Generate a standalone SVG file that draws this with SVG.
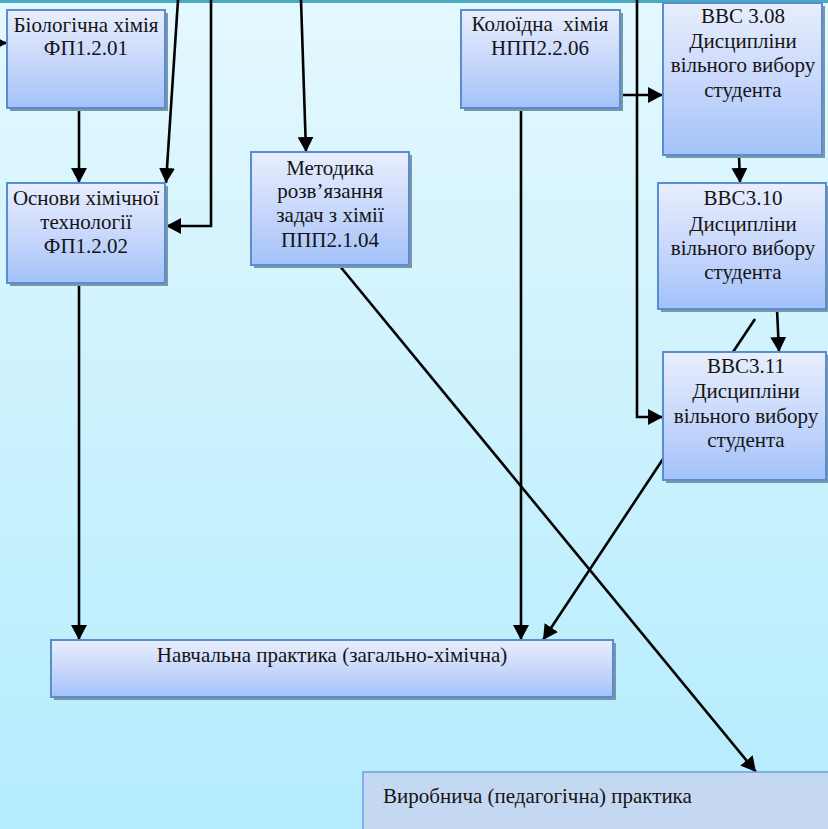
<svg xmlns="http://www.w3.org/2000/svg" width="828" height="829" viewBox="0 0 828 829">
  <defs>
    <linearGradient id="bg" x1="0" y1="0" x2="0" y2="1">
      <stop offset="0" stop-color="#e4f8ff"/>
      <stop offset="1" stop-color="#b4ecfd"/>
    </linearGradient>
    <linearGradient id="boxFill" x1="0" y1="0" x2="0" y2="1">
      <stop offset="0" stop-color="#e8eefd"/>
      <stop offset="0.55" stop-color="#c6d6fb"/>
      <stop offset="1" stop-color="#a3c2fa"/>
    </linearGradient>
    <marker id="arrow" markerUnits="userSpaceOnUse" markerWidth="15" markerHeight="16" refX="15" refY="8" orient="auto">
      <path d="M0,0 L15,8 L0,16 z" fill="#000"/>
    </marker>
  </defs>
  <style>
    .shadow { fill: #7a97a3; }
    .box { fill: url(#boxFill); stroke: #5a8dd0; stroke-width: 2; }
    .label { font-family: "Liberation Serif", "Times New Roman", serif; font-size: 21px; fill: #141414; text-anchor: middle; }
    .conn { fill: none; stroke: #000; stroke-width: 2.6; }
    .arr { marker-end: url(#arrow); }
  </style>

  <!-- background -->
  <rect x="0" y="0" width="828" height="829" fill="url(#bg)"/>
  <rect x="0" y="0" width="828" height="3" fill="#4aa9c4"/>

  <!-- connectors -->
  <g id="connectors">
    <line class="conn arr" x1="-10" y1="43" x2="7" y2="43"/>
    <line class="conn arr" x1="178" y1="0" x2="166" y2="183"/>
    <polyline class="conn arr" points="211,0 211,226 166,226"/>
    <line class="conn arr" x1="79" y1="108" x2="79" y2="183"/>
    <line class="conn arr" x1="301" y1="0" x2="306" y2="152"/>
    <line class="conn arr" x1="79" y1="283" x2="79" y2="640"/>
    <line class="conn arr" x1="521" y1="108" x2="521" y2="640"/>
    <line class="conn arr" x1="620" y1="95" x2="663" y2="95"/>
    <polyline class="conn arr" points="637,0 637,417 663,417"/>
    <line class="conn arr" x1="739" y1="155" x2="740" y2="183"/>
    <line class="conn arr" x1="777" y1="309" x2="779" y2="352"/>
    <line class="conn" x1="755" y1="319" x2="733" y2="352"/>
    <line class="conn arr" x1="663" y1="459" x2="543" y2="640"/>
    <line class="conn arr" x1="339" y1="265" x2="756" y2="772"/>
  </g>

  <!-- Біологічна хімія -->
  <g id="node-bio-chem">
    <rect class="shadow" x="10" y="13" width="158" height="98"/>
    <rect class="box" x="7" y="10" width="158" height="98"/>
    <text class="label" x="86" y="32">Біологічна хімія</text>
    <text class="label" x="86" y="55">ФП1.2.01</text>
  </g>

  <!-- Основи хімічної технології -->
  <g id="node-chem-tech">
    <rect class="shadow" x="10" y="186" width="158" height="100"/>
    <rect class="box" x="7" y="183" width="158" height="100"/>
    <text class="label" x="86" y="205">Основи хімічної</text>
    <text class="label" x="86" y="229">технології</text>
    <text class="label" x="86" y="253">ФП1.2.02</text>
  </g>

  <!-- Методика розв'язання задач -->
  <g id="node-methods">
    <rect class="shadow" x="254" y="155" width="158" height="113"/>
    <rect class="box" x="251" y="152" width="158" height="113"/>
    <text class="label" x="330" y="175">Методика</text>
    <text class="label" x="330" y="198">розв’язання</text>
    <text class="label" x="330" y="222">задач з хімії</text>
    <text class="label" x="330" y="247">ППП2.1.04</text>
  </g>

  <!-- Колоїдна хімія -->
  <g id="node-colloid">
    <rect class="shadow" x="464" y="13" width="159" height="98"/>
    <rect class="box" x="461" y="10" width="159" height="98"/>
    <text class="label" x="540" y="31" xml:space="preserve">Колоїдна  хімія</text>
    <text class="label" x="540" y="55">НПП2.2.06</text>
  </g>

  <!-- ВВС 3.08 -->
  <g id="node-vvs308">
    <rect class="shadow" x="666" y="6" width="159" height="152"/>
    <rect class="box" x="663" y="3" width="159" height="152"/>
    <text class="label" x="743" y="23">ВВС 3.08</text>
    <text class="label" x="743" y="48">Дисципліни</text>
    <text class="label" x="743" y="72">вільного вибору</text>
    <text class="label" x="743" y="97">студента</text>
  </g>

  <!-- ВВС3.10 -->
  <g id="node-vvs310">
    <rect class="shadow" x="661" y="186" width="168" height="126"/>
    <rect class="box" x="658" y="183" width="168" height="126"/>
    <text class="label" x="743" y="205">ВВС3.10</text>
    <text class="label" x="743" y="231">Дисципліни</text>
    <text class="label" x="743" y="255">вільного вибору</text>
    <text class="label" x="743" y="279">студента</text>
  </g>

  <!-- ВВС3.11 -->
  <g id="node-vvs311">
    <rect class="shadow" x="666" y="355" width="163" height="128"/>
    <rect class="box" x="663" y="352" width="163" height="128"/>
    <text class="label" x="746" y="373">ВВС3.11</text>
    <text class="label" x="746" y="398">Дисципліни</text>
    <text class="label" x="746" y="423">вільного вибору</text>
    <text class="label" x="746" y="447">студента</text>
  </g>

  <!-- Навчальна практика -->
  <g id="node-study-practice">
    <rect class="shadow" x="54" y="643" width="562" height="57"/>
    <rect class="box" x="51" y="640" width="562" height="57"/>
    <text class="label" x="332" y="662">Навчальна практика (загально-хімічна)</text>
  </g>

  <!-- Виробнича практика -->
  <g id="node-work-practice">
    <rect x="363" y="772" width="480" height="70" fill="#c5d8f1" stroke="#6d9fe0" stroke-width="1.5"/>
    <text class="label" x="383" y="803" style="text-anchor:start">Виробнича (педагогічна) практика</text>
  </g>
</svg>
